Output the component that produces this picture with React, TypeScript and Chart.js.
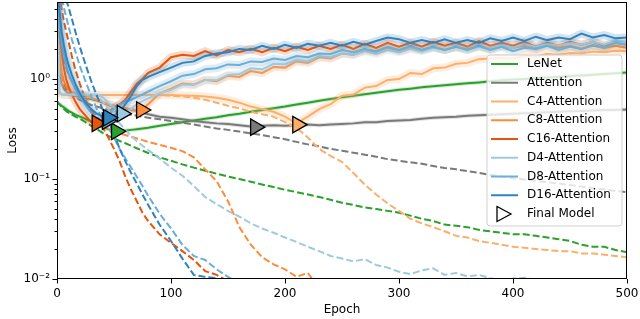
import { useEffect, useRef } from "react";
import { Chart, registerables } from "chart.js";
Chart.register(...registerables);

// ---------- data ----------
const epochs = [
  0, 2, 4, 6, 8, 10, 13, 16, 20, 25, 30, 35, 40, 45, 50, 55, 60, 65, 70, 75, 80, 90,
  100, 110, 120, 130, 140, 150, 160, 170, 180, 190,
  200, 210, 220, 230, 240, 250, 260, 270, 280, 290,
  300, 310, 320, 330, 340, 350, 360, 370, 380, 390,
  400, 410, 420, 430, 440, 450, 460, 470, 480, 490, 500,
];

const modelNames = [
  "LeNet", "Attention", "C4-Attention", "C8-Attention", "C16-Attention",
  "D4-Attention", "D8-Attention", "D16-Attention",
];
const markerLabel = "Final Model";

const lenetVal = [
  0.58, 0.56, 0.54, 0.52, 0.5, 0.48, 0.46, 0.44, 0.42, 0.4, 0.375, 0.35, 0.33, 0.315, 0.302, 0.3, 0.305, 0.31, 0.315, 0.32, 0.325, 0.34,
  0.355, 0.37, 0.385, 0.4, 0.415, 0.435, 0.45, 0.47, 0.49, 0.51,
  0.53, 0.555, 0.58, 0.605, 0.63, 0.655, 0.68, 0.705, 0.73, 0.755,
  0.78, 0.8, 0.825, 0.845, 0.865, 0.885, 0.905, 0.925, 0.95, 0.97,
  0.99, 1.0, 1.02, 1.035, 1.05, 1.07, 1.085, 1.1, 1.12, 1.14, 1.16,
];
const lenetTrain = [
  0.6, 0.56, 0.53, 0.5, 0.48, 0.46, 0.44, 0.42, 0.4, 0.37, 0.34, 0.315, 0.29, 0.27, 0.255, 0.24, 0.228, 0.215, 0.203, 0.192, 0.182, 0.165,
  0.152, 0.14, 0.13, 0.121, 0.113, 0.106, 0.1, 0.094, 0.088, 0.083,
  0.078, 0.074, 0.07, 0.066, 0.062, 0.058, 0.055, 0.052, 0.05, 0.048,
  0.046, 0.043, 0.04, 0.038, 0.035, 0.034, 0.033, 0.031, 0.03, 0.029,
  0.028, 0.028, 0.027, 0.026, 0.025, 0.024, 0.022, 0.021, 0.021, 0.0195, 0.0185,
];
const attVal = [
  3.2, 1.2, 0.9, 0.8, 0.75, 0.72, 0.7, 0.68, 0.66, 0.64, 0.63, 0.61, 0.58, 0.55, 0.53, 0.51, 0.5, 0.49, 0.48, 0.46, 0.445, 0.42,
  0.41, 0.395, 0.38, 0.37, 0.36, 0.355, 0.345, 0.335, 0.34, 0.345,
  0.34, 0.345, 0.35, 0.345, 0.35, 0.355, 0.36, 0.37, 0.37, 0.38,
  0.385, 0.39, 0.4, 0.41, 0.415, 0.42, 0.43, 0.435, 0.44, 0.445,
  0.45, 0.455, 0.46, 0.465, 0.47, 0.475, 0.48, 0.485, 0.49, 0.49, 0.495,
];
const attTrain = [
  3.5, 1.6, 1.1, 0.9, 0.8, 0.75, 0.7, 0.66, 0.62, 0.58, 0.55, 0.53, 0.51, 0.49, 0.475, 0.46, 0.45, 0.44, 0.43, 0.42, 0.41, 0.395,
  0.38, 0.365, 0.35, 0.335, 0.32, 0.31, 0.298, 0.286, 0.275, 0.262,
  0.25, 0.235, 0.222, 0.212, 0.2, 0.192, 0.183, 0.175, 0.167, 0.158,
  0.152, 0.147, 0.142, 0.135, 0.129, 0.125, 0.12, 0.115, 0.11, 0.106,
  0.102, 0.099, 0.096, 0.093, 0.09, 0.087, 0.084, 0.081, 0.079, 0.076, 0.074,
];
const c4Val = [
  6.5, 0.72, 0.7, 0.69, 0.69, 0.69, 0.69, 0.69, 0.69, 0.69, 0.69, 0.69, 0.69, 0.69, 0.69, 0.69, 0.69, 0.69, 0.69, 0.69, 0.69, 0.69,
  0.69, 0.685, 0.68, 0.67, 0.65, 0.62, 0.58, 0.53, 0.5, 0.47,
  0.42, 0.36, 0.42, 0.5, 0.56, 0.68, 0.7, 0.82, 0.85, 0.98,
  1.0, 1.15, 1.12, 1.28, 1.3, 1.42, 1.45, 1.58, 1.6, 1.62,
  1.6, 1.7, 1.68, 1.78, 1.75, 1.82, 1.8, 1.88, 1.85, 1.92, 1.9,
];
const c4Train = [
  6.5, 0.72, 0.7, 0.69, 0.69, 0.69, 0.69, 0.69, 0.69, 0.69, 0.69, 0.69, 0.69, 0.69, 0.69, 0.69, 0.69, 0.69, 0.69, 0.69, 0.69, 0.69,
  0.68, 0.67, 0.65, 0.62, 0.58, 0.54, 0.51, 0.47, 0.445, 0.42,
  0.37, 0.325, 0.26, 0.2, 0.17, 0.148, 0.115, 0.088, 0.07, 0.057,
  0.048, 0.04, 0.036, 0.033, 0.03, 0.027, 0.026, 0.024, 0.023, 0.022,
  0.021, 0.0205, 0.02, 0.0195, 0.019, 0.019, 0.018, 0.018, 0.0175, 0.017, 0.0165,
];
const c8Val = [
  6.5, 1.8, 1.2, 0.95, 0.85, 0.78, 0.74, 0.72, 0.7, 0.68, 0.65, 0.62, 0.59, 0.56, 0.54, 0.52, 0.51, 0.5, 0.49, 0.5, 0.56, 0.72,
  0.8, 0.9, 0.88, 0.98, 0.95, 1.08, 1.05, 1.2, 1.15, 1.32,
  1.3, 1.5, 1.45, 1.65, 1.6, 1.8, 1.75, 1.95, 1.85, 2.05,
  1.9, 2.05, 1.95, 2.1, 1.95, 2.1, 2.0, 2.15, 2.0, 2.15,
  2.05, 2.15, 2.0, 2.2, 2.05, 2.15, 2.0, 2.2, 2.05, 2.15, 2.05,
];
const c8Train = [
  6.5, 3.0, 2.2, 1.6, 1.3, 1.1, 0.95, 0.82, 0.7, 0.6, 0.5, 0.42, 0.36, 0.32, 0.3, 0.285, 0.275, 0.265, 0.255, 0.245, 0.235, 0.22,
  0.205, 0.19, 0.165, 0.125, 0.095, 0.06, 0.033, 0.022, 0.0165, 0.014,
  0.0125, 0.0105, 0.0115, 0.008,
];
const c16Val = [
  7, 3, 1.8, 1.3, 1.0, 0.85, 0.7, 0.6, 0.5, 0.43, 0.37, 0.36, 0.39, 0.46, 0.52, 0.56, 0.62, 0.75, 0.9, 1.0, 1.15, 1.3,
  1.65, 1.75, 1.7, 1.9, 1.72, 1.95, 1.85, 2.0, 1.85, 2.05,
  1.9, 2.1, 1.95, 2.15, 2.0, 2.2, 2.0, 2.25, 2.05, 2.3,
  2.1, 2.3, 2.1, 2.35, 2.15, 2.3, 2.1, 2.4, 2.15, 2.3,
  2.15, 2.35, 2.1, 2.3, 2.15, 2.35, 2.2, 2.35, 2.15, 2.3, 2.2,
];
const c16Train = [
  9, 7, 5, 3.8, 3.0, 2.4, 1.7, 1.25, 0.9, 0.62, 0.48, 0.4, 0.33, 0.26, 0.2, 0.15, 0.105, 0.078, 0.06, 0.046, 0.038, 0.028,
  0.023, 0.019, 0.0155, 0.012, 0.011, 0.0095,
];
const d4Val = [
  7, 0.75, 0.71, 0.7, 0.7, 0.7, 0.7, 0.7, 0.7, 0.7, 0.7, 0.7, 0.66, 0.58, 0.52, 0.47, 0.46, 0.5, 0.56, 0.6, 0.64, 0.72,
  0.78, 0.88, 0.87, 0.98, 0.97, 1.1, 1.12, 1.28, 1.25, 1.42,
  1.4, 1.55, 1.5, 1.7, 1.65, 1.8, 1.75, 1.9, 1.78, 1.95,
  1.85, 2.0, 1.9, 2.05, 1.95, 2.1, 1.95, 2.1, 2.0, 2.2,
  2.05, 2.25, 2.1, 2.25, 2.15, 2.3, 2.2, 2.35, 2.2, 2.4, 2.3,
];
const d4Train = [
  7, 0.75, 0.7, 0.7, 0.7, 0.7, 0.7, 0.7, 0.7, 0.7, 0.7, 0.67, 0.6, 0.5, 0.42, 0.36, 0.31, 0.27, 0.24, 0.215, 0.195, 0.16,
  0.13, 0.108, 0.085, 0.066, 0.056, 0.048, 0.042, 0.036, 0.032, 0.029,
  0.026, 0.0235, 0.021, 0.019, 0.017, 0.016, 0.015, 0.0158, 0.0138, 0.013,
  0.0118, 0.0112, 0.0122, 0.0128, 0.011, 0.0115, 0.0106, 0.011, 0.0102, 0.0097,
  0.0101, 0.0103, 0.0098, 0.0094,
];
const d8Val = [
  8, 4, 2.5, 1.8, 1.4, 1.15, 0.95, 0.8, 0.67, 0.55, 0.46, 0.39, 0.37, 0.44, 0.5, 0.55, 0.59, 0.62, 0.66, 0.7, 0.75, 0.85,
  0.95, 1.08, 1.12, 1.25, 1.28, 1.4, 1.38, 1.5, 1.48, 1.6,
  1.55, 1.7, 1.65, 1.8, 1.78, 1.95, 1.85, 2.0, 1.9, 2.1,
  1.95, 2.15, 1.95, 2.1, 1.95, 2.1, 1.95, 2.15, 1.95, 2.1,
  1.9, 2.05, 2.0, 2.15, 1.95, 2.1, 2.0, 2.15, 2.05, 2.3, 2.2,
];
const d8Train = [
  10, 8, 6.5, 5.2, 4.2, 3.4, 2.5, 1.9, 1.35, 0.95, 0.68, 0.5, 0.4, 0.33, 0.26, 0.2, 0.16, 0.13, 0.105, 0.085, 0.068, 0.045,
  0.032, 0.022, 0.017, 0.0155, 0.0125, 0.0105, 0.009,
];
const d16Val = [
  9, 5, 3, 2.2, 1.7, 1.4, 1.1, 0.9, 0.72, 0.58, 0.5, 0.45, 0.42, 0.41, 0.43, 0.47, 0.56, 0.68, 0.85, 0.98, 1.05, 1.17,
  1.3, 1.45, 1.5, 1.7, 1.8, 1.85, 2.0, 1.95, 2.15, 2.0,
  2.2, 2.05, 2.25, 2.15, 2.3, 2.15, 2.35, 2.2, 2.4, 2.6,
  2.5, 2.3, 2.45, 2.3, 2.5, 2.3, 2.45, 2.3, 2.55, 2.4,
  2.6, 2.4, 2.65, 2.45, 2.6, 2.5, 2.85, 2.6, 2.75, 2.55, 2.6,
];
const d16Train = [
  12, 10, 8.5, 7.2, 6.2, 5.3, 4.0, 3.0, 2.1, 1.4, 0.95, 0.68, 0.5, 0.38, 0.28, 0.2, 0.15, 0.115, 0.09, 0.07, 0.055, 0.035,
  0.024, 0.016, 0.011, 0.0105, 0.0102, 0.009,
];

const valSeries = [lenetVal, attVal, c4Val, c8Val, c16Val, d4Val, d8Val, d16Val];
const trainSeries = [lenetTrain, attTrain, c4Train, c8Train, c16Train, d4Train, d8Train, d16Train];

// epoch and loss of the selected ("final") model for each architecture
const finalEpochs = [52, 174, 211, 74, 35, 57, 44, 45];
const finalLoss = [0.3, 0.33, 0.35, 0.49, 0.36, 0.45, 0.38, 0.41];

const xTicks = [0, 100, 200, 300, 400, 500];
const yMajorTicks = [0.01, 0.1, 1];
const yTickLabels = ["10\u207B\u00B2", "10\u207B\u00B9", "10\u2070"];
const xMin = 0, xMax = 500, yMin = 0.01, yMax = 5.89;

// ---------- styles ----------
const colors = ["#2ca02c", "#7a7a7a", "#fdae6b", "#fd8d3c", "#e6550d", "#9ecae1", "#6baed6", "#3182bd"];
const bandWidths = [4, 4, 8, 8, 8, 8, 8, 8];
const FONT = "'DejaVu Sans', sans-serif";

function hexA(hex: string, a: number) {
  const n = parseInt(hex.slice(1), 16);
  return `rgba(${(n >> 16) & 255},${(n >> 8) & 255},${n & 255},${a})`;
}
function toPoints(vals: (number | null)[]) {
  return epochs.map((e, i) => ({ x: e, y: i < vals.length ? vals[i] : null }));
}

const framePlugin = {
  id: "frameTicks",
  afterDatasetsDraw(chart: any) {
    const { ctx, chartArea: a, scales } = chart;
    const y = scales.y, x = scales.x;
    ctx.save();
    ctx.strokeStyle = "#000";
    ctx.lineWidth = 1;
    const minors: number[] = [];
    for (const dec of [0.01, 0.1, 1]) for (let m = 2; m <= 9; m++) if (dec * m <= yMax) minors.push(dec * m);
    ctx.beginPath();
    for (const v of minors) {
      const py = Math.round(y.getPixelForValue(v)) + 0.5;
      ctx.moveTo(a.left - 2.5, py); ctx.lineTo(a.left, py);
    }
    for (const v of yMajorTicks) {
      const py = Math.round(y.getPixelForValue(v)) + 0.5;
      ctx.moveTo(a.left - 4.5, py); ctx.lineTo(a.left, py);
    }
    for (const v of xTicks) {
      const px = Math.round(x.getPixelForValue(v)) + 0.5;
      ctx.moveTo(px, a.bottom); ctx.lineTo(px, a.bottom + 4.5);
    }
    ctx.stroke();
    ctx.strokeRect(Math.round(a.left) + 0.5, Math.round(a.top) + 0.5, Math.round(a.right - a.left) - 1, Math.round(a.bottom - a.top) - 1);

    // legend
    const lx = a.right - 140, ly = a.top + 53, lw = 135, lh = 171, r = 3;
    ctx.beginPath();
    ctx.moveTo(lx + r, ly);
    ctx.arcTo(lx + lw, ly, lx + lw, ly + lh, r);
    ctx.arcTo(lx + lw, ly + lh, lx, ly + lh, r);
    ctx.arcTo(lx, ly + lh, lx, ly, r);
    ctx.arcTo(lx, ly, lx + lw, ly, r);
    ctx.closePath();
    ctx.fillStyle = "rgba(255,255,255,0.8)";
    ctx.fill();
    ctx.strokeStyle = "#d0d0d0";
    ctx.stroke();
    ctx.font = `12px ${FONT}`;
    ctx.textBaseline = "middle";
    ctx.textAlign = "left";
    const rowH = 18.75;
    modelNames.forEach((name, i) => {
      const ry = ly + 9 + i * rowH;
      ctx.strokeStyle = colors[i];
      ctx.lineWidth = 2;
      ctx.beginPath();
      ctx.moveTo(lx + 4, ry); ctx.lineTo(lx + 31, ry);
      ctx.stroke();
      ctx.fillStyle = "#000";
      ctx.fillText(name, lx + 40, ry);
    });
    const ry = ly + 9 + modelNames.length * rowH;
    ctx.beginPath();
    ctx.moveTo(lx + 10, ry - 7.5); ctx.lineTo(lx + 24, ry); ctx.lineTo(lx + 10, ry + 7.5); ctx.closePath();
    ctx.fillStyle = "#fff"; ctx.fill();
    ctx.strokeStyle = "#000"; ctx.lineWidth = 1.3; ctx.stroke();
    ctx.fillStyle = "#000";
    ctx.fillText(markerLabel, lx + 40, ry);
    ctx.restore();
  },
};

export default function App() {
  const ref = useRef<HTMLCanvasElement | null>(null);
  useEffect(() => {
    document.body.style.margin = "0";
    Chart.defaults.font.family = FONT;
    Chart.defaults.color = "#000";
    const datasets: any[] = [];
    let k = 0;
    modelNames.forEach((name, i) => {
      datasets.push({
        label: name + " band", data: toPoints(valSeries[i]), borderColor: hexA(colors[i], 0.22),
        borderWidth: bandWidths[i], pointRadius: 0, tension: 0, clip: 0, order: 1000 - k++, borderJoinStyle: "round",
      });
      datasets.push({
        label: name, data: toPoints(valSeries[i]), borderColor: colors[i],
        borderWidth: 2, pointRadius: 0, tension: 0, clip: 0, order: 1000 - k++,
      });
      datasets.push({
        label: name + " train", data: toPoints(trainSeries[i]), borderColor: colors[i],
        borderWidth: 2, borderDash: [7, 3], pointRadius: 0, tension: 0, clip: 0, order: 1000 - k++,
      });
    });
    modelNames.forEach((name, i) => {
      datasets.push({
        label: name + " final", data: [{ x: finalEpochs[i], y: finalLoss[i] }], showLine: false,
        pointStyle: "triangle", pointRotation: 90, pointRadius: 9.5, pointBackgroundColor: colors[i],
        pointBorderColor: "#000", pointBorderWidth: 1.3, clip: 0, order: -10 - i,
      });
    });
    const chart = new Chart(ref.current!, {
      type: "line",
      data: { datasets },
      options: {
        animation: false, responsive: false, devicePixelRatio: 1,
        layout: { autoPadding: false, padding: { top: 2, right: 13, left: 0, bottom: 0 } },
        plugins: { legend: { display: false }, tooltip: { enabled: false } },
        scales: {
          x: {
            type: "linear", min: xMin, max: xMax,
            grid: { display: false, drawTicks: true, tickLength: 8 },
            border: { display: false },
            afterBuildTicks: (s: any) => { s.ticks = xTicks.map((v) => ({ value: v })); },
            afterFit: (s: any) => { s.height = 40; },
            ticks: { padding: 0, font: { size: 12 }, color: "#000", maxRotation: 0, callback: (v: any) => String(v) },
            title: { display: true, text: "Epoch", font: { size: 12 }, color: "#000", padding: { top: 0, bottom: 2 } },
          },
          y: {
            type: "logarithmic", min: yMin, max: yMax,
            grid: { display: false, drawTicks: true, tickLength: 7 },
            border: { display: false },
            afterBuildTicks: (s: any) => { s.ticks = yMajorTicks.map((v) => ({ value: v })); },
            afterFit: (s: any) => { s.width = 57; },
            ticks: {
              padding: 0, font: { size: 12, lineHeight: 0.01 }, color: "#000",
              callback: (v: any) => { const j = yMajorTicks.findIndex((t) => Math.abs(t - v) < 1e-9); return j >= 0 ? yTickLabels[j] : ""; },
            },
            title: { display: true, text: "Loss", font: { size: 12 }, color: "#000", padding: { top: 6, bottom: 0 } },
          },
        },
      },
      plugins: [framePlugin],
    });
    return () => chart.destroy();
  }, []);
  return (
    <div style={{ width: 640, height: 319 }}>
      <canvas ref={ref} width={640} height={319} style={{ width: 640, height: 319, display: "block" }} />
    </div>
  );
}
